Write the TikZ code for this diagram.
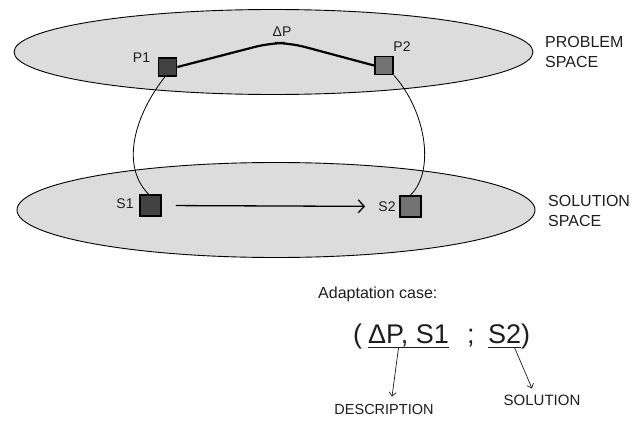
\documentclass[tikz,border=0pt]{standalone}
\usepackage{fontspec}
\setmainfont{Liberation Sans}
\usetikzlibrary{arrows.meta,calc}
\definecolor{ellfill}{RGB}{220,220,220}
\definecolor{darkbox}{RGB}{66,66,66}
\definecolor{midbox}{RGB}{115,115,115}
\definecolor{txt}{RGB}{30,30,30}
\begin{document}
\begin{tikzpicture}[x=1pt,y=-1pt,
  space/.style={draw=black, line width=0.9pt, fill=ellfill},
  sq/.style={draw=black, line width=1.8pt, inner sep=0pt},
  psq/.style={sq, minimum width=18pt, minimum height=18pt},
  ssq/.style={sq, minimum width=21pt, minimum height=21pt},
  lbl/.style={inner sep=0pt, text=txt, font=\fontsize{14}{16}\selectfont},
  spacelbl/.style={inner sep=0pt, text=txt, align=left, anchor=north west, font=\fontsize{16}{20}\selectfont},
  formula/.style={inner sep=0pt, text=txt, anchor=base west, font=\fontsize{27}{32}\selectfont},
  link/.style={draw=black, line width=0.8pt},
  delta/.style={draw=black, line width=2.2pt, rounded corners=15pt},
  mainarrow/.style={draw=black, line width=1.3pt, -{Straight Barb[length=6pt,width=13pt,line width=1.3pt]}},
  pointer/.style={draw=txt, line width=0.7pt, -{Straight Barb[length=4pt,width=7pt]}},
  uline/.style={draw=txt, line width=1pt}
]
\useasboundingbox (0,0) rectangle (642,420);
\fill[white] (0,0) rectangle (642,420);

% spaces
\draw[space] (273.5,52) ellipse [x radius=259.5, y radius=42.5];
\draw[space] (276,210) ellipse [x radius=259, y radius=47.5];

% boxes
\node[psq, fill=darkbox] (P1) at (167.5,67) {};
\node[psq, fill=midbox] (P2) at (384,65.5) {};
\node[ssq, fill=darkbox] (S1) at (150.5,205.5) {};
\node[ssq, fill=midbox] (S2) at (410.5,206.5) {};

% links
\draw[link] (P1.-105) .. controls (135,115) and (120,165) .. (S1.100);
\draw[link] (P2.south east) .. controls (425,110) and (436,170) .. (S2.north);
\draw[delta] (P1.east) -- (270,43) -- (290,43) -- (P2.west);
\draw[mainarrow, shorten <=14pt, shorten >=34pt] (S1.east) -- (S2.west);

% labels
\node[lbl] (dp) at (282,32) {ΔP};
\node[lbl] (p1l) at (141.5,58) {P1};
\node[lbl] (p2l) at (402,47) {P2};
\node[lbl] (s1l) at (125,204) {S1};
\node[lbl] (s2l) at (387,207) {S2};
\node[spacelbl] (ps) at (545,36) {PROBLEM\\SPACE};
\node[spacelbl] (ss) at (548,195) {SOLUTION\\SPACE};

% adaptation case
\node[inner sep=0pt, text=txt, anchor=base west, font=\fontsize{16}{18}\selectfont] (ac) at (318,298) {Adaptation case:};
\node[formula] (lp) at (353,343) {(};
\node[formula] (desc) at (368,343) {ΔP, S1};
\node[formula] (semi) at (467,343) {;};
\node[formula] (s2f) at (488,343) {S2};
\node[formula] (rp) at (521,343) {)};
\draw[uline] ($(desc.base west)+(0,4)$) -- ($(desc.base east)+(0,4)$);
\draw[uline] ($(s2f.base west)+(0,4)$) -- ($(s2f.base east)+(0,4)$);

\node[inner sep=0pt, text=txt, font=\fontsize{14.5}{16}\selectfont] (descr) at (384,410) {DESCRIPTION};
\node[inner sep=0pt, text=txt, font=\fontsize{15}{16}\selectfont] (soln) at (542,400) {SOLUTION};
\draw[pointer] ($(desc.base)+(-10,5)$) -- ($(descr.north)+(8,-8)$);
\draw[pointer] ($(s2f.base)+(10,5)$) -- ($(soln.north)+(-10,-6)$);
\end{tikzpicture}
\end{document}
